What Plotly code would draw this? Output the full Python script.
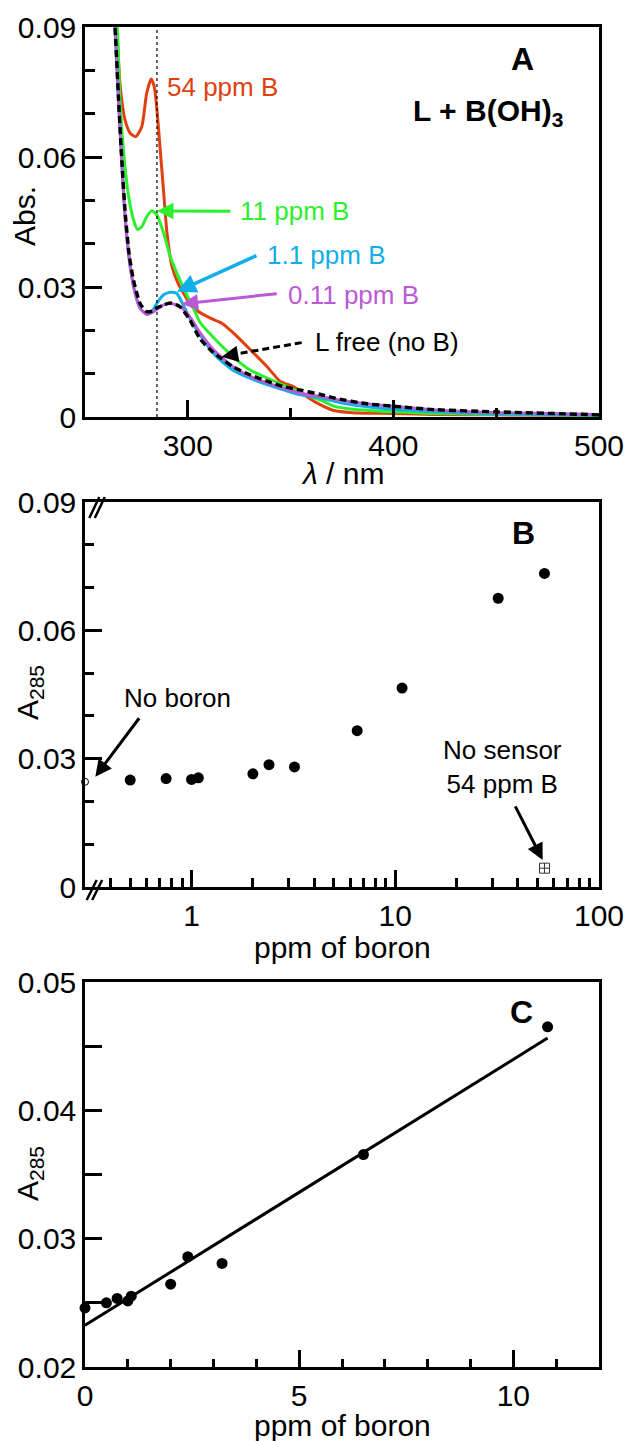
import math
import plotly.graph_objects as go

# ---------------- DATA ----------------
# Panel A: absorption spectra (wavelength nm, absorbance)
wl_54 = [262, 265.4, 267, 269.5, 272, 274.7, 277.6, 280, 282.2, 283.7, 285, 286.6, 288.3, 289.9,
         292.3, 295.5, 298, 299.6, 302.8, 304.5, 311, 316.7, 322.4, 330.5, 338.6, 345, 351.4, 357.9,
         364.6, 371, 380, 400, 420, 450, 500]
abs_54 = [0.11, 0.09, 0.077, 0.0685, 0.0655, 0.0647, 0.067, 0.0747, 0.078, 0.0762, 0.0708, 0.0616,
          0.0516, 0.0424, 0.0347, 0.0306, 0.0285, 0.0272, 0.0252, 0.0245, 0.0228, 0.0216, 0.0193,
          0.0155, 0.0116, 0.0082, 0.0070, 0.0047, 0.0028, 0.0015, 0.0010, 0.0008, 0.0006, 0.0005, 0.0004]

wl_11 = [262, 265.7, 267, 268.7, 271, 273.6, 275.5, 277.6, 280, 282.5, 285, 288.3, 291.5, 294.7,
         298, 302.8, 306, 310, 314, 322, 330.5, 338.6, 350, 357, 364.6, 371, 380, 400, 420, 450, 500]
abs_11 = [0.11, 0.09, 0.0732, 0.0616, 0.0516, 0.0455, 0.0433, 0.0439, 0.0462, 0.0476, 0.0466, 0.0424,
          0.0370, 0.0332, 0.0297, 0.0250, 0.0218, 0.0196, 0.0176, 0.0139, 0.0108, 0.0090, 0.0067,
          0.0052, 0.0039, 0.0025, 0.0018, 0.0012, 0.0008, 0.0006, 0.0004]

wl_1 = [262, 264.6, 266.3, 268, 269.5, 272, 274.4, 276.8, 280, 282.5, 285, 288.3, 290.5, 292.3,
        294.7, 297, 301, 306, 314, 322, 330.5, 339, 347, 355, 364.6, 375, 390, 400, 420, 450, 500]
abs_1 = [0.11, 0.09, 0.0732, 0.0578, 0.0462, 0.0347, 0.0285, 0.0251, 0.0237, 0.0243, 0.0263, 0.0282,
         0.0287, 0.0288, 0.0285, 0.0266, 0.0228, 0.0189, 0.0139, 0.0108, 0.0089, 0.0074, 0.0062,
         0.0051, 0.0044, 0.0032, 0.0022, 0.0018, 0.0012, 0.0007, 0.0004]

wl_011 = [262, 264.6, 266.3, 268, 269.5, 272, 274.4, 276.8, 280, 283.4, 286, 288.3, 291.5, 296, 301,
          306, 312.5, 322, 330.5, 339, 346.6, 355, 364.6, 375, 390, 400, 420, 450, 500]
abs_011 = [0.11, 0.09, 0.0732, 0.0578, 0.0462, 0.0347, 0.0285, 0.0251, 0.0237, 0.0243, 0.0252, 0.0259,
           0.0262, 0.0256, 0.0231, 0.0194, 0.0155, 0.0116, 0.0093, 0.0078, 0.0066, 0.0055, 0.0047,
           0.0038, 0.0029, 0.0025, 0.0016, 0.0010, 0.0006]

wl_free = [262, 264.6, 266.3, 268, 269.5, 271.5, 273.6, 276.8, 280, 283, 285, 288, 291.5, 296, 301,
           306, 312.5, 316, 322, 330.5, 339, 346.6, 355, 364.6, 371, 387.6, 400, 420, 450, 500]
abs_free = [0.11, 0.09, 0.0735, 0.0585, 0.0475, 0.0375, 0.0316, 0.0262, 0.0243, 0.0245, 0.0252, 0.0258,
            0.0263, 0.0255, 0.0224, 0.0180, 0.0148, 0.0136, 0.0116, 0.0097, 0.0082, 0.0070, 0.0062,
            0.0052, 0.0044, 0.0030, 0.0025, 0.0017, 0.0012, 0.0005]

lambda_mark = 285  # dotted reference wavelength

# Panels B and C: A285 vs ppm of boron
ppm_boron = [0.5, 0.75, 1.0, 1.08, 2.0, 2.4, 3.2, 6.5, 10.8, 32, 54]
a285 = [0.0250, 0.02534, 0.02515, 0.02552, 0.02645, 0.02859, 0.02807, 0.03655, 0.04651, 0.0675, 0.0733]
blank_ppm = 0.0      # no boron
blank_a285 = 0.0246
no_sensor_ppm = 54
no_sensor_a285 = 0.0044

fit_ppm = [0, 10.8]
fit_a285 = [0.02325, 0.04563]

# ---------------- LAYOUT HELPERS ----------------
W, H = 627, 1441
FONT = "Liberation Sans, Arial, Helvetica, sans-serif"


def px(x):
    return x / W


def py(y):
    return 1 - y / H


def dom(top, bottom):
    return [py(bottom), py(top)]


def lg(v):
    return math.log10(v)


LEFT, RIGHT = 85, 599

fig = go.Figure()

# Panel A traces
curves = [
    (wl_54, abs_54, "#e0400f", "solid", 3),
    (wl_11, abs_11, "#2cf02c", "solid", 3),
    (wl_1, abs_1, "#12aeea", "solid", 3),
    (wl_011, abs_011, "#bb5ad6", "solid", 3),
    (wl_free, abs_free, "#000000", "7px,4px", 3.4),
]
for wl, ab, col, dash, w in curves:
    fig.add_trace(go.Scatter(x=wl, y=ab, mode="lines", xaxis="x", yaxis="y",
                             line=dict(color=col, width=w, dash=dash, shape="spline", smoothing=0.6),
                             showlegend=False))

# Panel B traces
fig.add_trace(go.Scatter(x=ppm_boron, y=a285, mode="markers", xaxis="x2", yaxis="y2",
                         marker=dict(color="black", size=11), showlegend=False))
fig.add_trace(go.Scatter(x=[0.3], y=[blank_a285], mode="markers", xaxis="x2", yaxis="y2",
                         marker=dict(symbol="circle-open", color="black", size=7, line=dict(width=1)),
                         cliponaxis=False, showlegend=False))
fig.add_trace(go.Scatter(x=[no_sensor_ppm], y=[no_sensor_a285], mode="markers", xaxis="x2", yaxis="y2",
                         marker=dict(symbol="square-cross-open", color="#333", size=10, line=dict(width=1)),
                         showlegend=False))

# Panel C traces
fig.add_trace(go.Scatter(x=fit_ppm, y=fit_a285, mode="lines", xaxis="x3", yaxis="y3",
                         line=dict(color="black", width=3), showlegend=False))
fig.add_trace(go.Scatter(x=[blank_ppm] + ppm_boron[:9], y=[blank_a285] + a285[:9], mode="markers",
                         xaxis="x3", yaxis="y3", marker=dict(color="black", size=11),
                         cliponaxis=False, showlegend=False))

axis_common = dict(showline=True, mirror=True, linecolor="black", linewidth=2.5, showgrid=False,
                   zeroline=False, ticks="inside", tickcolor="black", tickwidth=2.5, automargin=False,
                   tickfont=dict(family=FONT, size=30, color="black"))

fig.update_layout(
    width=W, height=H, margin=dict(l=0, r=0, t=0, b=0, autoexpand=False),
    paper_bgcolor="white", plot_bgcolor="white",
    font=dict(family=FONT, color="black"),
    xaxis=dict(domain=[px(LEFT), px(RIGHT)], anchor="y", range=[250, 500],
               tickvals=[300, 400, 500], ticklen=17,
               minor=dict(tickvals=[350, 450], ticklen=9, ticks="inside", tickwidth=2.5, tickcolor="black"),
               **axis_common),
    yaxis=dict(domain=dom(27, 417), anchor="x", range=[0, 0.09],
               tickvals=[0, 0.03, 0.06, 0.09], ticktext=["0", "0.03", "0.06", "0.09"], ticklen=17,
               minor=dict(tickvals=[0.01, 0.02, 0.04, 0.05, 0.07, 0.08], ticklen=10, ticks="inside",
                          tickwidth=2.5, tickcolor="black"),
               **axis_common),
    xaxis2=dict(domain=[px(LEFT), px(RIGHT)], anchor="y2", type="log", range=[-0.523, 2.0],
                tickvals=[1, 10, 100], ticktext=["1", "10", "100"], ticklen=17,
                minor=dict(tickvals=[0.4, 0.5, 0.6, 0.7, 0.8, 0.9, 2, 3, 4, 5, 6, 7, 8, 9,
                                     20, 30, 40, 50, 60, 70, 80, 90],
                           ticklen=9, ticks="inside", tickwidth=2.5, tickcolor="black"),
                **axis_common),
    yaxis2=dict(domain=dom(502, 887), anchor="x2", range=[0, 0.09],
                tickvals=[0, 0.03, 0.06, 0.09], ticktext=["0", "0.03", "0.06", "0.09"], ticklen=17,
                minor=dict(tickvals=[0.01, 0.02, 0.04, 0.05, 0.07, 0.08], ticklen=9, ticks="inside",
                           tickwidth=2.5, tickcolor="black"),
                **axis_common),
    xaxis3=dict(domain=[px(LEFT), px(RIGHT)], anchor="y3", range=[0, 12],
                tickvals=[0, 5, 10], ticklen=17,
                minor=dict(tickvals=[1, 2, 3, 4, 6, 7, 8, 9, 11], ticklen=8, ticks="inside",
                           tickwidth=2.5, tickcolor="black"),
                **axis_common),
    yaxis3=dict(domain=dom(982, 1367), anchor="x3", range=[0.02, 0.05],
                tickvals=[0.02, 0.025, 0.03, 0.035, 0.04, 0.045, 0.05],
                ticktext=["0.02", "", "0.03", "", "0.04", "", "0.05"], ticklen=17,
                **axis_common),
)

# dotted vertical line at 285 nm
fig.add_shape(type="line", xref="x", yref="y", x0=lambda_mark, x1=lambda_mark, y0=0, y1=0.09,
              line=dict(color="black", width=1.2, dash="3px,3px"))

ann = []


def text(x, y, s, xref, yref, size=26, color="black", xanchor="left", bold=False, angle=0, yanchor="middle"):
    if bold:
        s = "<b>" + s + "</b>"
    ann.append(dict(x=x, y=y, xref=xref, yref=yref, text=s, showarrow=False, xanchor=xanchor,
                    yanchor=yanchor, textangle=angle,
                    font=dict(family=FONT, size=size, color=color)))


def arrow(x, y, ax, ay, xref, yref, color, width=3):
    ann.append(dict(x=x, y=y, ax=ax, ay=ay, xref=xref, yref=yref, axref=xref, ayref=yref, text="",
                    showarrow=True, arrowhead=2, arrowsize=1.1, arrowwidth=width, arrowcolor=color))


# Panel A labels
text(288.9, 0.0762, "54 ppm B", "x", "y", color="#e0400f")
text(324.4, 0.0475, "11 ppm B", "x", "y", color="#2cf02c")
arrow(285.0, 0.04755, 321.5, 0.0475, "x", "y", "#2cf02c")
text(337.5, 0.0374, "1.1 ppm B", "x", "y", color="#12aeea")
arrow(294.7, 0.0289, 334.1, 0.0374, "x", "y", "#12aeea", width=3.5)
text(347.8, 0.0282, "0.11 ppm B", "x", "y", color="#bb5ad6")
arrow(297.0, 0.0261, 344.0, 0.0285, "x", "y", "#bb5ad6")
text(360.9, 0.0173, "L free (no B)", "x", "y", color="black")
fig.add_shape(type="line", xref="x", yref="y", x0=355.4, y0=0.01716, x1=320.0, y1=0.01425,
              line=dict(color="black", width=3, dash="7px,4px"))
arrow(316.5, 0.0139, 322.0, 0.01435, "x", "y", "black")
text(463, 0.0826, "A", "x", "y", size=32, xanchor="center", bold=True)
text(446, 0.0703, "L + B(OH)<sub>3</sub>", "x", "y", size=30, xanchor="center", bold=True)

# axis titles panel A
text(px(25), py(216), "Abs.", "paper", "paper", size=30, xanchor="center", angle=-90)
text(px(342), py(473), "<i>λ</i> / nm", "paper", "paper", size=30, xanchor="center")

# Panel B labels (log x axis: annotation positions in log10 units)
text(lg(0.855), 0.0442, "No boron", "x2", "y2", xanchor="center")
arrow(lg(0.337), 0.0258, lg(0.56), 0.0398, "x2", "y2", "black")
text(lg(33.6), 0.0281, "No sensor<br>54 ppm B", "x2", "y2", xanchor="center")
arrow(lg(52.9), 0.0063, lg(38.5), 0.0192, "x2", "y2", "black")
text(lg(42.6), 0.0828, "B", "x2", "y2", size=32, xanchor="center", bold=True)
text(px(29), py(693), "A<sub>285</sub>", "paper", "paper", size=30, xanchor="center", angle=-90)
text(px(342), py(947), "ppm of boron", "paper", "paper", size=30, xanchor="center")

# Panel C labels
text(10.2, 0.0477, "C", "x3", "y3", size=32, xanchor="center", bold=True)
text(px(29), py(1174), "A<sub>285</sub>", "paper", "paper", size=30, xanchor="center", angle=-90)
text(px(342), py(1425), "ppm of boron", "paper", "paper", size=30, xanchor="center")

fig.update_layout(annotations=ann)

# axis-break marks on panel B
for (x0, y0, x1, y1) in [(89.3, 518, 99.3, 497), (94.8, 518, 104.8, 497),
                         (86.7, 900, 96.7, 880), (92.2, 900, 102.2, 880)]:
    fig.add_shape(type="line", xref="paper", yref="paper", x0=px(x0), y0=py(y0), x1=px(x1), y1=py(y1),
                  line=dict(color="black", width=2.5))

fig.write_html("out.html")
